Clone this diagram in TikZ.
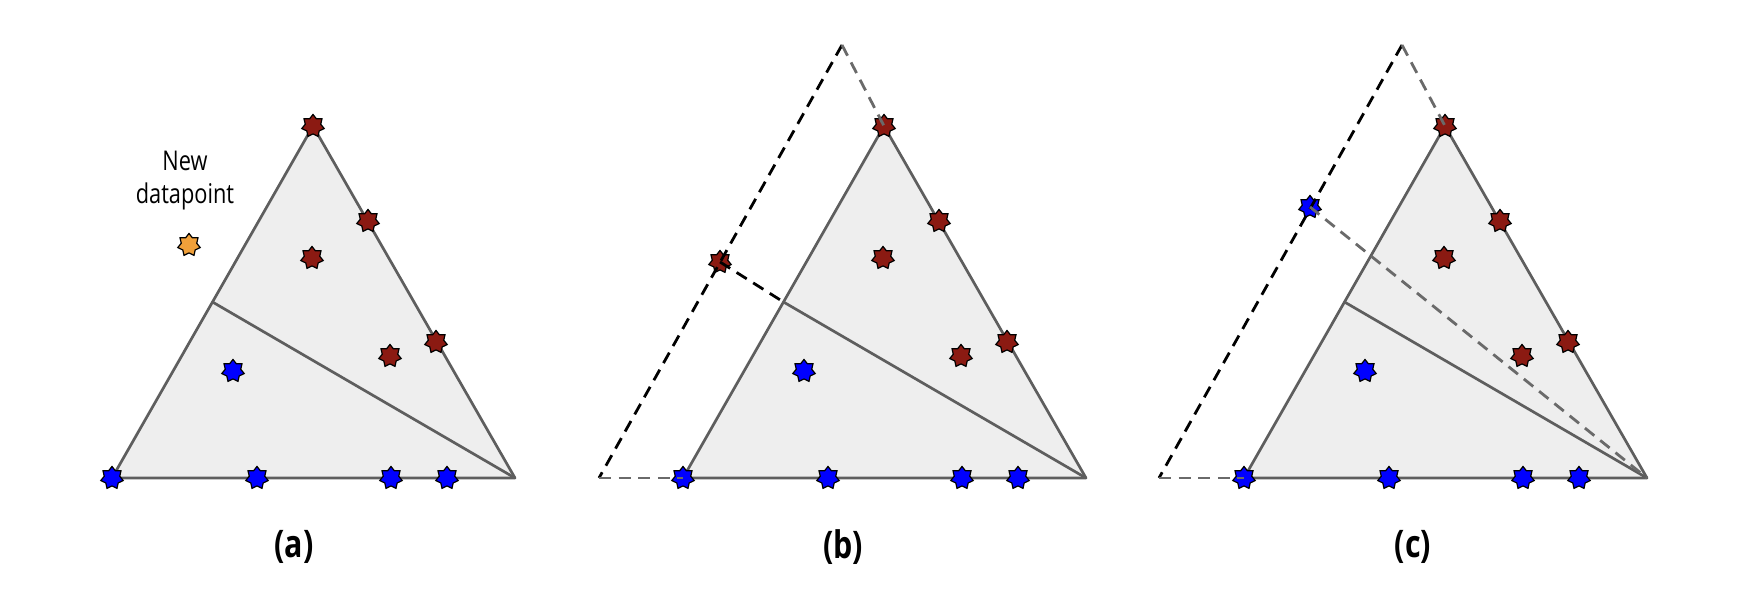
\documentclass[tikz,border=0pt]{standalone}
\usepackage{fontspec}
\setmainfont{Open Sans}
\newfontfamily\txtfont[FakeStretch=0.8]{Open Sans}
\newfontfamily\lblfont[FakeStretch=0.8]{Open Sans}
\usetikzlibrary{shapes.geometric}
\definecolor{trifill}{HTML}{EEEEEE}
\definecolor{edgegray}{HTML}{5E5E5E}
\definecolor{dashgray}{HTML}{6A6A6A}
\definecolor{redS}{HTML}{8B1A12}
\definecolor{blueS}{HTML}{0000FF}
\definecolor{orangeS}{HTML}{F0A03A}
\tikzset{
  pstar/.style={star, star points=7, star point ratio=1.45, minimum size=11.5pt,
     inner sep=0pt, draw=black, line width=0.6pt},
  redstar/.style={pstar, fill=redS},
  bluestar/.style={pstar, fill=blueS},
  orangestar/.style={pstar, fill=orangeS},
  edgeline/.style={draw=edgegray, line width=1.35pt, line join=round},
  bdash/.style={draw=black, line width=1.4pt, dash pattern=on 6pt off 3.8pt},
  gdash/.style={draw=dashgray, line width=1.4pt, dash pattern=on 6pt off 3.8pt},
  plabel/.style={font=\lblfont\bfseries\fontsize{19}{21}\selectfont, inner sep=0pt},
}
\newcommand\drawpanel[1]{%
  \coordinate (#1A) at (112,478);
  \coordinate (#1B) at (515,478);
  \coordinate (#1C) at (313,126);
  \coordinate (#1M) at (212.5,302);
  \fill[trifill] (#1A) -- (#1B) -- (#1C) -- cycle;
  \draw[edgeline] (#1A) -- (#1B) -- (#1C) -- cycle;
  \draw[edgeline] (#1M) -- (#1B);
  \node[redstar] (#1s1) at (313,126) {};
  \node[redstar] (#1s2) at (368,221) {};
  \node[redstar] (#1s3) at (312,258) {};
  \node[redstar] (#1s4) at (390,356) {};
  \node[redstar] (#1s5) at (436,342) {};
  \node[bluestar] (#1s6) at (233,371) {};
  \node[bluestar] (#1s7) at (112,478) {};
  \node[bluestar] (#1s8) at (257,478) {};
  \node[bluestar] (#1s9) at (391,478) {};
  \node[bluestar] (#1s10) at (447,478) {};
}
\begin{document}
\begin{tikzpicture}[x=0.5pt,y=-0.5pt]
\useasboundingbox (0,0) rectangle (1752,592);
% panel (a)
\begin{scope}
  \drawpanel{a}
  \node[orangestar] (anew) at (189,245) {};
  \node[font=\txtfont\fontsize{13.6}{16.5}\selectfont, align=center, inner sep=0pt] (atext) at (185,181) {New\\datapoint};
\end{scope}
% panel (b)
\begin{scope}[xshift=285.5pt]
  \drawpanel{b}
  \coordinate (bP) at (271,45);
  \coordinate (bQ) at (28,478);
  \node[redstar] (bX) at (149,262) {};
  \draw[bdash] (bP) -- (bQ);
  \draw[gdash] (bQ) -- (bs7.center);
  \draw[gdash] (bP) -- (bs1.center);
  \draw[bdash] (bX.center) -- (bM);
\end{scope}
% panel (c)
\begin{scope}[xshift=566pt]
  \drawpanel{c}
  \coordinate (cP) at (270,45);
  \coordinate (cQ) at (27,478);
  \node[bluestar] (cX) at (178,207) {};
  \draw[bdash] (cP) -- (cQ);
  \draw[gdash] (cQ) -- (cs7.center);
  \draw[gdash] (cP) -- (cs1.center);
  \draw[gdash] (cX.center) -- (cB);
\end{scope}
\node[plabel] (la) at (294,547) {(a)};
\node[plabel] (lb) at (843,547) {(b)};
\node[plabel] (lc) at (1413,547) {(c)};
\end{tikzpicture}
\end{document}
